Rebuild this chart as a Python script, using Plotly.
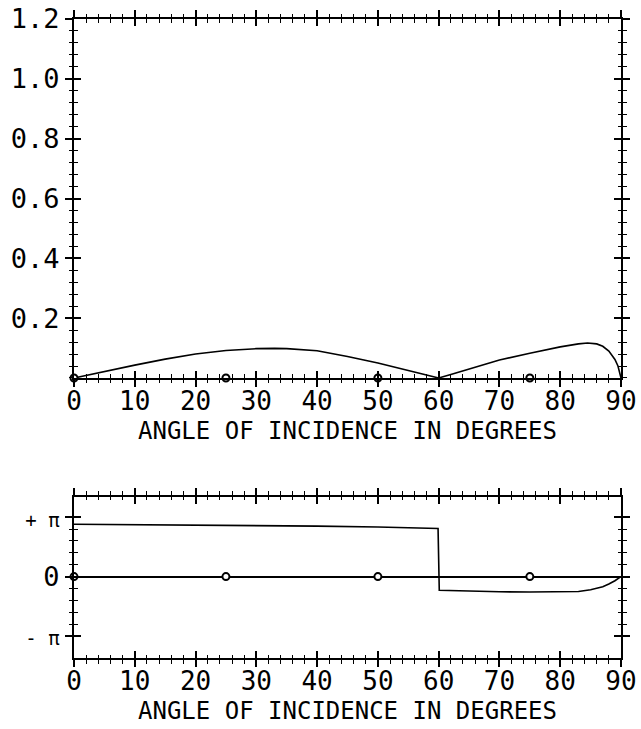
import plotly.graph_objects as go

# ---- data ----
angle_amp = [0, 2, 5, 10, 15, 20, 25, 30, 33, 35, 40, 45, 50, 55, 58, 60,
             62, 65, 70, 75, 80, 83, 84.5, 86, 87, 88, 89, 89.5, 90]
amplitude = [0, 0.009, 0.023, 0.043, 0.063, 0.080, 0.092, 0.098, 0.099, 0.098, 0.091, 0.072, 0.050, 0.026, 0.011, 0,
             0.012, 0.030, 0.060, 0.083, 0.104, 0.114, 0.117, 0.114, 0.106, 0.090, 0.062, 0.040, 0]

angle_phase = [0, 10, 20, 30, 40, 50, 55, 59.9, 60.1, 65, 70, 75, 80, 83, 85, 87, 88, 89, 90]
phase_over_pi = [0.88, 0.875, 0.87, 0.86, 0.85, 0.835, 0.825, 0.81, -0.23, -0.245, -0.255, -0.26, -0.26,
                 -0.25, -0.22, -0.17, -0.125, -0.07, 0]

marker_angles = [0, 25, 50, 75]
marker_values = [0, 0, 0, 0]

x_ticks = [0, 10, 20, 30, 40, 50, 60, 70, 80, 90]
amp_ticks = [0.2, 0.4, 0.6, 0.8, 1.0, 1.2]
amp_ticktext = ["0.2", "0.4", "0.6", "0.8", "1.0", "1.2"]
phase_ticks = [-1, 0, 1]
phase_ticktext = ["<span style='font-size:19px'>- π</span>", "0",
                  "<span style='font-size:19px'>+ π</span>"]
phase_minor = [-0.8, -0.6, -0.4, -0.2, 0.2, 0.4, 0.6, 0.8]
x_title = "ANGLE OF INCIDENCE IN DEGREES"

FONT = "DejaVu Sans Mono"
BLACK = "black"

fig = go.Figure()

fig.add_trace(go.Scatter(x=angle_amp, y=amplitude, mode="lines",
                         line=dict(color=BLACK, width=1.6), xaxis="x", yaxis="y",
                         showlegend=False, hoverinfo="skip"))
fig.add_trace(go.Scatter(x=marker_angles, y=marker_values, mode="markers",
                         marker=dict(symbol="circle", size=7, color="white",
                                     line=dict(color=BLACK, width=2)),
                         cliponaxis=False, xaxis="x", yaxis="y", showlegend=False))

fig.add_trace(go.Scatter(x=angle_phase, y=phase_over_pi, mode="lines",
                         line=dict(color=BLACK, width=1.6), xaxis="x2", yaxis="y2",
                         showlegend=False, hoverinfo="skip"))
fig.add_trace(go.Scatter(x=marker_angles, y=marker_values, mode="markers",
                         marker=dict(symbol="circle", size=7, color="white",
                                     line=dict(color=BLACK, width=2)),
                         cliponaxis=False, xaxis="x2", yaxis="y2", showlegend=False))

# invisible traces carrying twin subplots (inner half of the crossing ticks)
fig.add_trace(go.Scatter(x=marker_angles, y=marker_values, mode="markers", marker=dict(opacity=0),
                         xaxis="x3", yaxis="y3", showlegend=False, hoverinfo="skip"))
fig.add_trace(go.Scatter(x=marker_angles, y=marker_values, mode="markers", marker=dict(opacity=0),
                         xaxis="x4", yaxis="y4", showlegend=False, hoverinfo="skip"))

TOP_DOM = [0.4382, 1.0]
BOT_DOM = [0.0, 0.252]

def xaxis_cfg(anchor, inner):
    tick_dir = "inside" if inner else "outside"
    d = dict(range=[0, 90], tickvals=x_ticks, showgrid=False, zeroline=False, automargin=False,
             showline=True, linecolor=BLACK, linewidth=2, tickcolor=BLACK, tickwidth=1.6, ticklen=7,
             minor=dict(ticks=tick_dir, dtick=2, tick0=0, ticklen=3.5, tickcolor=BLACK,
                        tickwidth=1.4, showgrid=False),
             mirror="ticks", layer="above traces", domain=[0, 1], anchor=anchor, ticks=tick_dir)
    if inner:
        d.update(showticklabels=False)
    else:
        d.update(showticklabels=True, ticklabelstandoff=-8,
                 tickfont=dict(family=FONT, size=26, color=BLACK),
                 title=dict(text=x_title, font=dict(family=FONT, size=24, color=BLACK), standoff=7))
    return d

def yaxis_cfg(anchor, inner, top):
    tick_dir = "inside" if inner else "outside"
    if top:
        d = dict(range=[0, 1.2], tickvals=amp_ticks, ticktext=amp_ticktext, domain=TOP_DOM, zeroline=False,
                 minor=dict(ticks=tick_dir, dtick=0.04, tick0=0, ticklen=3.5, tickcolor=BLACK,
                            tickwidth=1.4, showgrid=False))
    else:
        d = dict(range=[-1.37, 1.34], tickvals=phase_ticks, ticktext=phase_ticktext, domain=BOT_DOM,
                 zeroline=not inner, zerolinecolor=BLACK, zerolinewidth=2,
                 minor=dict(ticks=tick_dir, tickmode="array", tickvals=phase_minor, ticklen=3.5,
                            tickcolor=BLACK, tickwidth=1.4, showgrid=False))
    d.update(showgrid=False, automargin=False, showline=True, linecolor=BLACK, linewidth=2,
             tickcolor=BLACK, tickwidth=1.6, ticklen=7, mirror="ticks", anchor=anchor,
             layer="above traces", ticks=tick_dir,
             showticklabels=not inner, tickfont=dict(family=FONT, size=27, color=BLACK))
    return d

fig.update_layout(
    width=641, height=729,
    margin=dict(l=74, r=20, t=19, b=71, autoexpand=False),
    paper_bgcolor="white", plot_bgcolor="rgba(0,0,0,0)",
    showlegend=False,
    xaxis=xaxis_cfg("y", False),
    yaxis=yaxis_cfg("x", False, True),
    xaxis2=xaxis_cfg("y2", False),
    yaxis2=yaxis_cfg("x2", False, False),
    xaxis3=xaxis_cfg("y3", True),
    yaxis3=yaxis_cfg("x3", True, True),
    xaxis4=xaxis_cfg("y4", True),
    yaxis4=yaxis_cfg("x4", True, False),
)

fig.write_html("out.html")
